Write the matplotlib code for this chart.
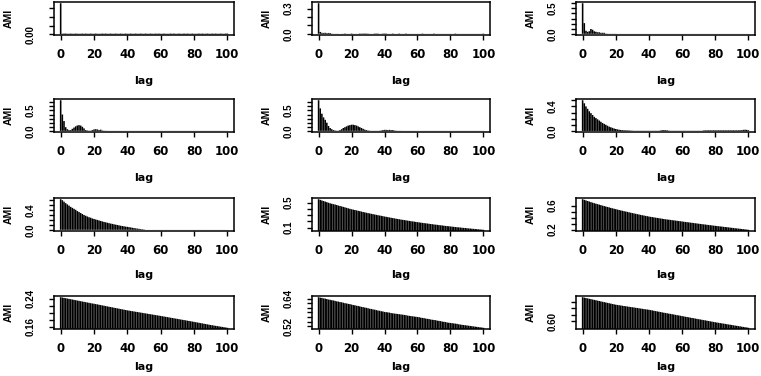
import matplotlib
matplotlib.use("Agg")
import matplotlib.pyplot as plt

lags = list(range(101))

ami_1 = [0.177,
    0.003,0.004,0.004,0.003,0.003,0.004,0.003,0.003,0.004,0.003,
    0.003,0.003,0.004,0.003,0.004,0.003,0.003,0.004,0.003,0.003,
    0.004,0.003,0.003,0.003,0.004,0.003,0.004,0.003,0.003,0.004,
    0.003,0.003,0.004,0.003,0.003,0.004,0.003,0.003,0.004,0.003,
    0.003,0.004,0.003,0.003,0.004,0.003,0.003,0.004,0.003,0.003,
    0.004,0.003,0.003,0.004,0.003,0.003,0.004,0.003,0.004,0.003,
    0.003,0.004,0.003,0.003,0.003,0.004,0.003,0.004,0.003,0.003,
    0.004,0.003,0.003,0.004,0.003,0.004,0.003,0.003,0.004,0.003,
    0.003,0.003,0.004,0.003,0.004,0.003,0.003,0.004,0.003,0.003,
    0.004,0.003,0.004,0.003,0.003,0.004,0.003,0.003,0.004,0.004]

ami_2 = [0.365,
    0.022,0.012,0.010,0.012,0.008,0.010,0.009,0.002,0.001,0.001,
    0.001,0.001,0.000,0.001,0.001,0.004,0.001,0.001,0.001,0.004,
    0.001,0.001,0.001,0.001,0.004,0.003,0.004,0.004,0.004,0.003,
    0.001,0.001,0.001,0.004,0.004,0.004,0.001,0.001,0.004,0.004,
    0.004,0.001,0.001,0.001,0.004,0.001,0.001,0.001,0.004,0.001,
    0.001,0.001,0.004,0.001,0.001,0.001,0.001,0.001,0.001,0.001,
    0.001,0.001,0.004,0.001,0.001,0.001,0.001,0.001,0.001,0.004,
    0.001,0.001,0.001,0.001,0.001,0.001,0.001,0.001,0.001,0.001,
    0.001,0.001,0.004,0.001,0.001,0.001,0.001,0.001,0.001,0.001,
    0.001,0.001,0.001,0.001,0.001,0.001,0.001,0.001,0.001,0.004]

ami_3 = [0.600,
    0.210,0.060,0.040,0.050,0.095,0.080,0.050,0.040,0.030,0.030,
    0.020,0.020,0.020,0.005,0.003,0.002,0.002,0.002,0.002,0.002,
    0.001,0.001,0.001,0.001,0.001,0.001,0.001,0.001,0.001,0.001,
    0.001,0.001,0.001,0.001,0.001,0.001,0.001,0.001,0.001,0.001,
    0.001,0.001,0.001,0.001,0.001,0.001,0.001,0.001,0.001,0.001,
    0.001,0.001,0.001,0.001,0.001,0.001,0.001,0.001,0.001,0.001,
    0.001,0.001,0.001,0.001,0.001,0.001,0.001,0.001,0.001,0.001,
    0.001,0.001,0.001,0.001,0.001,0.001,0.001,0.001,0.001,0.001,
    0.001,0.001,0.001,0.001,0.001,0.001,0.001,0.001,0.001,0.001,
    0.001,0.001,0.001,0.001,0.001,0.001,0.001,0.001,0.001,0.001]

ami_4 = [0.750,
    0.400,0.240,0.090,0.040,0.020,0.020,0.050,0.080,0.110,0.130,
    0.140,0.130,0.100,0.060,0.020,0.010,0.005,0.005,0.020,0.035,
    0.040,0.035,0.020,0.030,0.010,0.005,0.003,0.003,0.002,0.002,
    0.002,0.002,0.002,0.002,0.002,0.002,0.002,0.002,0.002,0.002,
    0.002,0.002,0.002,0.002,0.002,0.002,0.002,0.002,0.002,0.002,
    0.002,0.002,0.002,0.002,0.002,0.002,0.002,0.002,0.002,0.002,
    0.002,0.002,0.002,0.002,0.002,0.002,0.002,0.002,0.002,0.002,
    0.002,0.002,0.002,0.002,0.002,0.002,0.002,0.002,0.002,0.002,
    0.002,0.002,0.002,0.002,0.002,0.002,0.002,0.002,0.002,0.002,
    0.002,0.002,0.002,0.002,0.002,0.002,0.002,0.002,0.002,0.002]

ami_5 = [0.750,
    0.550,0.420,0.330,0.270,0.200,0.120,0.070,0.040,0.020,0.010,
    0.005,0.005,0.020,0.040,0.070,0.090,0.110,0.130,0.140,0.150,
    0.150,0.140,0.130,0.110,0.090,0.070,0.050,0.030,0.020,0.010,
    0.005,0.003,0.003,0.003,0.003,0.003,0.005,0.010,0.020,0.025,
    0.025,0.020,0.025,0.020,0.020,0.010,0.005,0.003,0.003,0.003,
    0.002,0.002,0.002,0.002,0.002,0.002,0.002,0.002,0.002,0.002,
    0.002,0.002,0.002,0.002,0.002,0.002,0.002,0.002,0.002,0.002,
    0.002,0.002,0.002,0.002,0.002,0.002,0.002,0.002,0.002,0.002,
    0.002,0.002,0.002,0.002,0.002,0.002,0.002,0.002,0.002,0.002,
    0.002,0.002,0.002,0.002,0.002,0.002,0.002,0.002,0.002,0.002]

ami_6 = [0.500,
    0.450,0.400,0.360,0.320,0.290,0.260,0.230,0.210,0.190,0.170,
    0.150,0.130,0.115,0.100,0.085,0.070,0.060,0.050,0.040,0.032,
    0.026,0.020,0.016,0.013,0.011,0.010,0.009,0.008,0.006,0.004,
    0.003,0.003,0.003,0.003,0.003,0.003,0.003,0.003,0.003,0.003,
    0.003,0.003,0.003,0.003,0.003,0.003,0.008,0.012,0.013,0.012,
    0.010,0.005,0.003,0.003,0.003,0.003,0.003,0.003,0.003,0.003,
    0.003,0.003,0.003,0.003,0.003,0.003,0.003,0.003,0.003,0.003,
    0.003,0.003,0.008,0.010,0.010,0.011,0.010,0.010,0.011,0.010,
    0.010,0.011,0.010,0.010,0.011,0.010,0.010,0.011,0.010,0.010,
    0.011,0.010,0.010,0.011,0.012,0.012,0.018,0.020,0.018,0.012]

ami_7 = [0.620,
    0.600,0.570,0.540,0.515,0.490,0.465,0.445,0.425,0.405,0.380,
    0.360,0.340,0.320,0.300,0.285,0.270,0.255,0.245,0.230,0.220,
    0.210,0.200,0.190,0.180,0.170,0.160,0.152,0.144,0.135,0.127,
    0.120,0.112,0.105,0.098,0.090,0.083,0.077,0.071,0.065,0.060,
    0.054,0.048,0.042,0.036,0.030,0.025,0.020,0.015,0.011,0.007,
    0.001,0.001,0.001,0.001,0.001,0.001,0.001,0.001,0.001,0.001,
    0.001,0.001,0.001,0.001,0.001,0.001,0.001,0.001,0.001,0.001,
    0.001,0.001,0.001,0.001,0.001,0.001,0.001,0.001,0.001,0.001,
    0.001,0.001,0.001,0.001,0.001,0.001,0.001,0.001,0.001,0.001,
    0.001,0.001,0.001,0.001,0.001,0.001,0.001,0.001,0.001,0.001]

ami_8 = [0.555,0.545,0.535,0.526,0.517,0.508,0.499,0.490,0.482,0.476,0.470,
    0.462,0.454,0.447,0.440,0.432,0.425,0.417,0.410,0.402,0.395,
    0.389,0.383,0.377,0.370,0.364,0.358,0.351,0.345,0.339,0.333,
    0.328,0.322,0.317,0.311,0.306,0.300,0.295,0.290,0.284,0.279,
    0.274,0.269,0.264,0.259,0.254,0.249,0.244,0.239,0.235,0.230,
    0.226,0.222,0.218,0.213,0.209,0.205,0.201,0.197,0.193,0.189,
    0.185,0.181,0.177,0.174,0.170,0.167,0.163,0.159,0.156,0.152,
    0.149,0.146,0.142,0.139,0.136,0.132,0.129,0.126,0.123,0.120,
    0.117,0.114,0.111,0.108,0.106,0.103,0.100,0.097,0.095,0.092,
    0.089,0.087,0.084,0.082,0.079,0.077,0.074,0.072,0.069,0.067]

ami_9 = [0.705,0.695,0.685,0.675,0.666,0.657,0.648,0.639,0.631,0.623,0.615,
    0.607,0.599,0.591,0.584,0.576,0.569,0.561,0.554,0.547,0.540,
    0.533,0.526,0.519,0.513,0.506,0.500,0.494,0.487,0.481,0.475,
    0.469,0.463,0.457,0.451,0.445,0.439,0.434,0.428,0.423,0.417,
    0.412,0.408,0.403,0.399,0.394,0.390,0.385,0.381,0.376,0.372,
    0.368,0.365,0.361,0.357,0.353,0.350,0.346,0.342,0.339,0.335,
    0.331,0.327,0.324,0.320,0.316,0.313,0.309,0.305,0.302,0.298,
    0.294,0.291,0.287,0.284,0.280,0.277,0.273,0.270,0.266,0.263,
    0.260,0.256,0.253,0.250,0.246,0.243,0.240,0.237,0.233,0.230,
    0.227,0.223,0.220,0.217,0.214,0.210,0.207,0.204,0.200,0.197]

ami_10 = [0.2447,0.2438,0.2428,0.2419,0.2409,0.2400,0.2390,0.2381,0.2371,0.2362,0.2352,
    0.2343,0.2333,0.2324,0.2314,0.2305,0.2295,0.2286,0.2276,0.2267,0.2260,
    0.2250,0.2241,0.2231,0.2222,0.2212,0.2203,0.2193,0.2184,0.2174,0.2165,
    0.2156,0.2146,0.2137,0.2127,0.2118,0.2108,0.2099,0.2089,0.2080,0.2070,
    0.2062,0.2054,0.2046,0.2038,0.2030,0.2022,0.2014,0.2006,0.1998,0.1990,
    0.1982,0.1974,0.1966,0.1958,0.1950,0.1942,0.1934,0.1926,0.1918,0.1910,
    0.1902,0.1893,0.1885,0.1876,0.1868,0.1859,0.1851,0.1842,0.1834,0.1825,
    0.1817,0.1808,0.1800,0.1791,0.1783,0.1774,0.1766,0.1757,0.1749,0.1740,
    0.1731,0.1722,0.1713,0.1704,0.1695,0.1686,0.1677,0.1668,0.1659,0.1650,
    0.1642,0.1634,0.1626,0.1618,0.1610,0.1602,0.1594,0.1586,0.1578,0.1570]

ami_11 = [0.646,0.644,0.643,0.641,0.640,0.638,0.636,0.635,0.633,0.632,0.630,
    0.628,0.627,0.625,0.624,0.622,0.620,0.619,0.617,0.616,0.614,
    0.612,0.611,0.609,0.608,0.606,0.604,0.603,0.601,0.600,0.598,
    0.596,0.595,0.593,0.592,0.590,0.588,0.587,0.585,0.584,0.582,
    0.581,0.580,0.579,0.577,0.576,0.575,0.574,0.573,0.572,0.571,
    0.570,0.569,0.568,0.566,0.565,0.564,0.563,0.562,0.561,0.560,
    0.559,0.557,0.556,0.555,0.553,0.552,0.551,0.549,0.548,0.547,
    0.546,0.544,0.543,0.542,0.540,0.539,0.538,0.536,0.535,0.534,
    0.533,0.532,0.531,0.530,0.528,0.527,0.526,0.525,0.524,0.523,
    0.522,0.521,0.520,0.519,0.518,0.517,0.516,0.515,0.514,0.513]

ami_12 = [0.6370,0.6364,0.6358,0.6352,0.6346,0.6341,0.6335,0.6329,0.6323,0.6318,0.6312,
    0.6306,0.6300,0.6295,0.6289,0.6283,0.6278,0.6272,0.6266,0.6261,0.6255,
    0.6251,0.6247,0.6243,0.6239,0.6235,0.6231,0.6227,0.6223,0.6219,0.6216,
    0.6212,0.6208,0.6204,0.6200,0.6196,0.6192,0.6188,0.6184,0.6181,0.6177,
    0.6172,0.6167,0.6162,0.6157,0.6152,0.6147,0.6142,0.6137,0.6132,0.6128,
    0.6123,0.6118,0.6114,0.6109,0.6104,0.6099,0.6094,0.6090,0.6085,0.6080,
    0.6075,0.6070,0.6066,0.6061,0.6056,0.6051,0.6047,0.6042,0.6037,0.6032,
    0.6028,0.6023,0.6018,0.6014,0.6009,0.6004,0.5999,0.5995,0.5990,0.5985,
    0.5981,0.5977,0.5972,0.5968,0.5964,0.5960,0.5955,0.5951,0.5947,0.5943,
    0.5938,0.5934,0.5930,0.5926,0.5922,0.5917,0.5913,0.5909,0.5905,0.5900]

series = [ami_1, ami_2, ami_3, ami_4, ami_5, ami_6,
          ami_7, ami_8, ami_9, ami_10, ami_11, ami_12]

yticks = [
    [0.00, 0.05, 0.10, 0.15],
    [0.0, 0.1, 0.2, 0.3],
    [0.0, 0.1, 0.2, 0.3, 0.4, 0.5, 0.6],
    [0.0, 0.1, 0.2, 0.3, 0.4, 0.5, 0.6, 0.7],
    [0.0, 0.1, 0.2, 0.3, 0.4, 0.5, 0.6, 0.7],
    [0.0, 0.1, 0.2, 0.3, 0.4, 0.5],
    [0.0, 0.1, 0.2, 0.3, 0.4, 0.5, 0.6],
    [0.1, 0.2, 0.3, 0.4, 0.5],
    [0.2, 0.3, 0.4, 0.5, 0.6],
    [0.16, 0.18, 0.20, 0.22, 0.24],
    [0.52, 0.54, 0.56, 0.58, 0.60, 0.62, 0.64],
    [0.60, 0.61, 0.62, 0.63],
]
ylabels = [
    ["0.00", "", "", ""],
    ["0.0", "", "", "0.3"],
    ["0.0", "", "", "", "", "0.5", ""],
    ["0.0", "", "", "", "", "0.5", "", ""],
    ["0.0", "", "", "", "", "0.5", "", ""],
    ["0.0", "", "", "", "0.4", ""],
    ["0.0", "", "", "", "0.4", "", ""],
    ["0.1", "", "", "", "0.5"],
    ["0.2", "", "", "", "0.6"],
    ["0.16", "", "", "", "0.24"],
    ["0.52", "", "", "", "", "", "0.64"],
    ["0.60", "", "", ""],
]
xticks = [0, 20, 40, 60, 80, 100]

W, H = 761, 376
col_left = [54, 312, 576]
col_width = [180, 178, 179]
row_top = [2, 99, 198, 296]
row_h = 33
lag_offset = [41, 41, 39, 33]

narrow = ['Liberation Sans Narrow', 'DejaVu Sans Condensed', 'Liberation Sans', 'DejaVu Sans']
plt.rcParams['font.family'] = ['DejaVu Sans']
fig = plt.figure(figsize=(W / 100, H / 100), dpi=100)

for i, vals in enumerate(series):
    r, c = divmod(i, 3)
    left = col_left[c] / W
    bottom = 1 - (row_top[r] + row_h) / H
    ax = fig.add_axes([left, bottom, col_width[c] / W, row_h / H])
    bars = ax.bar(lags, vals, width=0.95, color='black', linewidth=0, antialiased=True)
    for b in bars:
        b.set_snap(False)
    lo, hi = min(vals), max(vals)
    rng = hi - lo
    ax.set_ylim(lo - 0.04 * rng, hi + 0.04 * rng)
    ax.set_xlim(-4, 104)
    ax.set_xticks(xticks)
    ax.set_xticklabels([str(t) for t in xticks], fontsize=8.5, fontweight='bold')
    ax.set_yticks(yticks[i])
    ax.set_yticklabels(ylabels[i], fontsize=7, rotation=90, va='center',
                       family=narrow, fontweight='bold')
    ax.tick_params(axis='both', direction='out', length=3.5, width=1.0, color='black')
    ax.tick_params(axis='x', pad=6)
    ax.tick_params(axis='y', pad=10)
    for s in ax.spines.values():
        s.set_linewidth(1.1)
    ax.set_xlabel('lag', fontsize=8, fontweight='bold')
    ax.xaxis.set_label_coords(0.5, -lag_offset[r] / row_h)
    ax.set_ylabel('AMI', fontsize=7.5, family=narrow, fontweight='bold')
    ax.yaxis.set_label_coords(-40 / col_width[c], 0.5)

fig.savefig('out.png', dpi=100)
